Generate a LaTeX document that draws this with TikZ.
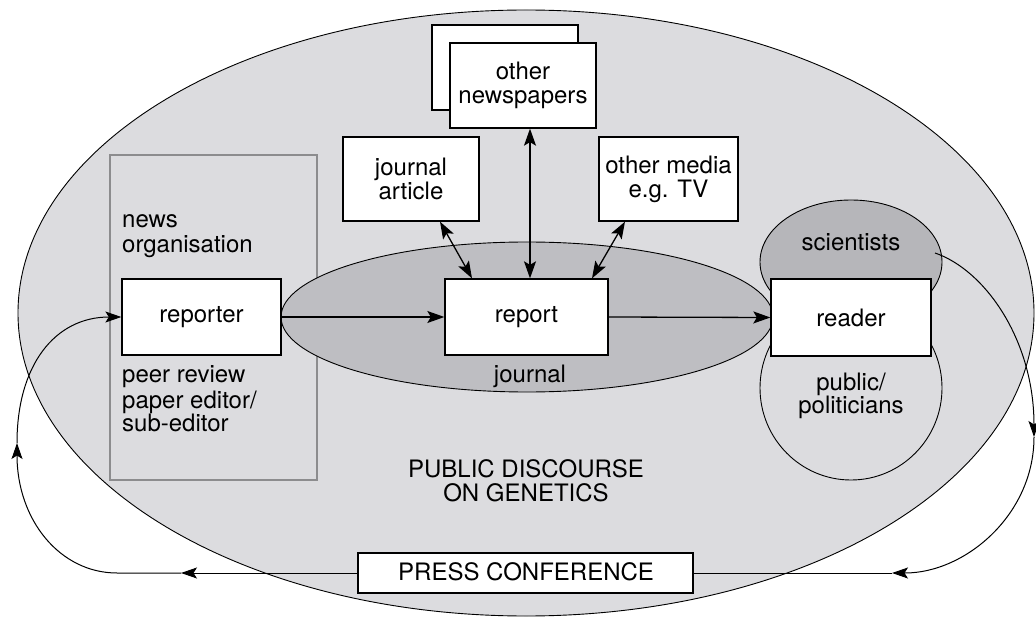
\documentclass[tikz,border=0pt]{standalone}
\usepackage{fontspec}
\setmainfont{TeX Gyre Heros}
\usetikzlibrary{arrows.meta,calc}
\definecolor{bgL}{HTML}{DCDCDF}
\definecolor{jrn}{HTML}{BEBEC2}
\definecolor{sci}{HTML}{B6B6BA}
\definecolor{orgc}{HTML}{8C8C8E}
\begin{document}
\begin{tikzpicture}[x=1pt,y=-1pt,
  every node/.style={font=\fontsize{24}{24}\selectfont, inner sep=0pt},
  box/.style={draw=black, fill=white, line width=1.3pt, align=center},
  arr/.style={-{Stealth[length=17pt,width=12pt,inset=3.5pt]}, line width=1.3pt},
  darr/.style={{Stealth[length=17pt,width=12pt,inset=3.5pt]}-{Stealth[length=17pt,width=12pt,inset=3.5pt]}, line width=1.3pt},
  looparr/.style={-{Stealth[length=16pt,width=11pt,inset=3.5pt]}, line width=1pt},
  region/.style={draw=black, line width=0.9pt},
  lbl/.style={anchor=base west},
  clbl/.style={anchor=base}]
\useasboundingbox (0,0) rectangle (1036,620);
% background region
\fill[white] (0,0) rectangle (1036,620);
\draw[region, fill=bgL] (526,313) ellipse [x radius=508pt, y radius=303pt];
% news organisation
\node[draw=orgc, fill=bgL, line width=1.8pt, minimum width=207pt, minimum height=325pt] (org) at (213.5,317.5) {};
% journal ellipse
\draw[region, fill=jrn] (527,317) ellipse [x radius=246pt, y radius=75pt];
% reader circles
\draw[region, fill=bgL] (851,388) ellipse [x radius=91pt, y radius=92pt];
\draw[region, fill=sci] (851,262) ellipse [x radius=91pt, y radius=62pt];
% boxes
\node[box, minimum width=159pt, minimum height=76pt] (reporter) at (201.5,317) {reporter};
\node[box, minimum width=163pt, minimum height=76pt] (report) at (526.5,317) {report};
\node[box, minimum width=160pt, minimum height=77pt] (reader) at (851,317.5) {reader};
\node[box, minimum width=146pt, minimum height=85pt] (newsback) at (505,67.5) {};
\node[box, minimum width=146pt, minimum height=85pt] (news) at (523,85.5) {other\\newspapers};
\node[box, minimum width=136pt, minimum height=84pt] (jart) at (411,179) {journal\\article};
\node[box, minimum width=139pt, minimum height=84pt] (media) at (668.5,179) {other media\\e.g. TV};
\node[box, line width=1.1pt, minimum width=335pt, minimum height=40pt] (press) at (525.5,573) {};
\node[clbl] (presstxt) at (526,580) {PRESS CONFERENCE};
% labels
\node[lbl] (t1) at (122,228) {news};
\node[lbl] (t2) at (122,253) {organisation};
\node[lbl] (t3) at (122,382) {peer review};
\node[lbl] (t4) at (122,408) {paper editor/};
\node[lbl] (t5) at (122,431) {sub-editor};
\node[clbl] (t6) at (851,251) {scientists};
\node[clbl] (t7) at (851,390) {public/};
\node[clbl] (t8) at (851,413) {politicians};
\node[clbl] (t9) at (530,382) {journal};
\node[clbl] (t10) at (526,477) {PUBLIC DISCOURSE};
\node[clbl] (t11) at (526,501) {ON GENETICS};
% main arrows
\draw[arr] (reporter.east) -- (report.west);
\draw[arr] (report.east) -- (reader.west);
\draw[darr] ([xshift=29pt]jart.south) -- ([xshift=-54.5pt]report.north);
\draw[darr] ([xshift=7pt]news.south) -- ([xshift=3.5pt]report.north);
\draw[darr] ([xshift=-43.5pt]media.south) -- ([xshift=65.5pt]report.north);
% left feedback loop
\coordinate (la) at (181,573);
\coordinate (lb) at (17,443);
\draw[looparr] (press.west) -- (la);
\draw[looparr] (la) -- (117,573) .. controls (60,573) and (17,520) .. (lb);
\draw[looparr] (lb) .. controls (17,365) and (55,317) .. (reporter.west);
% right feedback loop
\coordinate (rs) at (935,253);
\coordinate (ra) at (1034,437);
\coordinate (rb) at (892,573);
\draw[looparr] (rs) .. controls (985,270) and (1034,340) .. (ra);
\draw[looparr] (ra) .. controls (1034,515) and (965,573) .. (905,573) -- (rb);
\draw[line width=1pt] (rb) -- (press.east);
\end{tikzpicture}
\end{document}
